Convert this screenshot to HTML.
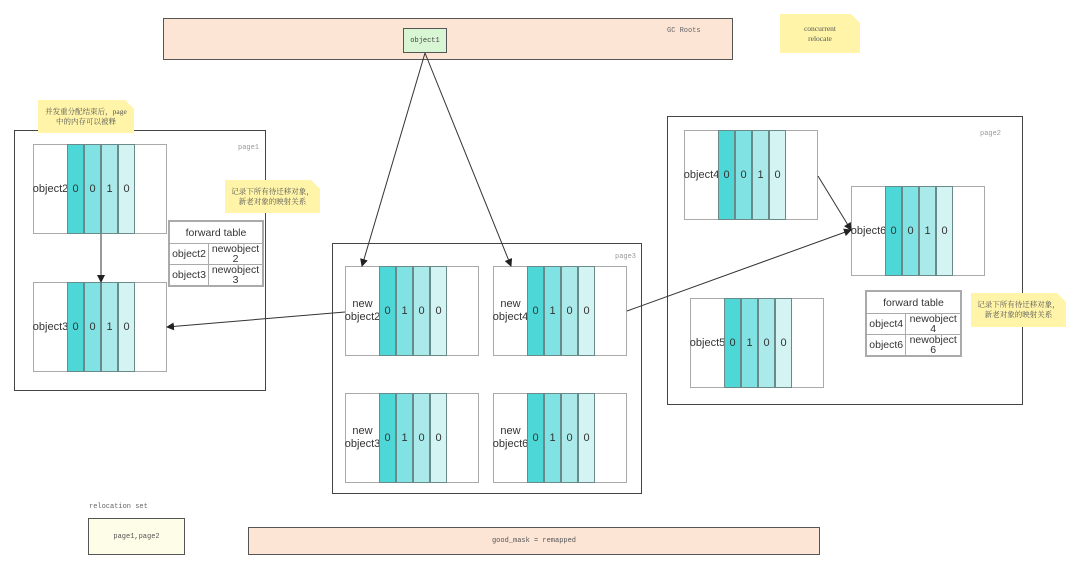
<!DOCTYPE html>
<html><head><meta charset="utf-8"><style>
body{margin:0;width:1080px;height:569px;background:#fff;position:relative;overflow:hidden;font-family:"Liberation Sans","Noto Sans CJK SC",sans-serif}
.a{position:absolute;box-sizing:border-box}
.pg{border:1.3px solid #444;background:#fff}
.obj{position:absolute;width:134px;height:90px;border:1px solid #aaa;background:#fff;box-sizing:border-box}
.obj .l{position:absolute;left:0;top:0;width:33px;height:100%;display:flex;align-items:center;justify-content:center;font-size:11px;color:#333;text-align:center;line-height:13px;white-space:nowrap}
.obj .b{position:absolute;top:-1px;height:90px;width:17px;border:1px solid #6a8a8a;box-sizing:border-box;display:flex;align-items:center;justify-content:center;font-size:11px;color:#333}
.c1{background:#4ed7d7}.c2{background:#80e2e2}.c3{background:#abeaea}.c4{background:#d4f4f4}
.note{background:#fff4a8;font-family:"Liberation Serif","Noto Serif CJK SC",serif;font-size:7.5px;color:#555;text-align:center;display:flex;align-items:center;justify-content:center;line-height:10px;clip-path:polygon(0 0,calc(100% - 9px) 0,100% 9px,100% 100%,0 100%)}
.ft{position:absolute;border:1px solid #aaa;background:#fff;font-size:10.5px;color:#333;box-sizing:border-box}
.ft table{border-collapse:collapse;width:100%;height:100%}
.ft td{border:1px solid #aaa;text-align:center;line-height:10px;padding:0}
.sm{font-family:"Liberation Mono",monospace;font-size:7px;color:#666}
</style></head><body>
<div class="a" style="left:163px;top:18px;width:570px;height:42px;background:#fde5d6;border:1.3px solid #555"></div>
<div class="a sm" style="left:667px;top:27px">GC Roots</div>
<div class="a" style="left:403px;top:28px;width:44px;height:25px;background:#d8f5d4;border:1.3px solid #555;font-family:'Liberation Mono',monospace;font-size:7px;color:#444;display:flex;align-items:center;justify-content:center">object1</div>
<div class="a note" style="left:780px;top:14px;width:80px;height:39px">concurrent<br>relocate</div>

<div class="a pg" style="left:14px;top:130px;width:252px;height:261px"></div>
<div class="a sm" style="left:238px;top:144px;color:#999">page1</div>
<div class="a note" style="left:38px;top:100px;width:96px;height:33px">并发重分配结束后，page<br>中的内存可以被释</div>
<div class="a note" style="left:225px;top:180px;width:95px;height:33px">记录下所有待迁移对象，<br>新老对象的映射关系</div>
<div class="obj" style="left:33px;top:144px"><div class="l">object2</div><div class="b c1" style="left:33px">0</div><div class="b c2" style="left:50px">0</div><div class="b c3" style="left:67px">1</div><div class="b c4" style="left:84px">0</div></div>
<div class="obj" style="left:33px;top:282px"><div class="l">object3</div><div class="b c1" style="left:33px">0</div><div class="b c2" style="left:50px">0</div><div class="b c3" style="left:67px">1</div><div class="b c4" style="left:84px">0</div></div>
<div class="ft" style="left:168px;top:220px;width:96px;height:67px"><table><tr style="height:22px"><td colspan="2">forward table</td></tr><tr><td>object2</td><td>newobject<br>2</td></tr><tr><td>object3</td><td>newobject<br>3</td></tr></table></div>

<div class="a pg" style="left:332px;top:243px;width:310px;height:251px"></div>
<div class="a sm" style="left:615px;top:253px;color:#999">page3</div>
<div class="obj" style="left:345px;top:266px"><div class="l">new<br>object2</div><div class="b c1" style="left:33px">0</div><div class="b c2" style="left:50px">1</div><div class="b c3" style="left:67px">0</div><div class="b c4" style="left:84px">0</div></div>
<div class="obj" style="left:493px;top:266px"><div class="l">new<br>object4</div><div class="b c1" style="left:33px">0</div><div class="b c2" style="left:50px">1</div><div class="b c3" style="left:67px">0</div><div class="b c4" style="left:84px">0</div></div>
<div class="obj" style="left:345px;top:393px"><div class="l">new<br>object3</div><div class="b c1" style="left:33px">0</div><div class="b c2" style="left:50px">1</div><div class="b c3" style="left:67px">0</div><div class="b c4" style="left:84px">0</div></div>
<div class="obj" style="left:493px;top:393px"><div class="l">new<br>object6</div><div class="b c1" style="left:33px">0</div><div class="b c2" style="left:50px">1</div><div class="b c3" style="left:67px">0</div><div class="b c4" style="left:84px">0</div></div>

<div class="a pg" style="left:667px;top:116px;width:356px;height:289px"></div>
<div class="a sm" style="left:980px;top:130px;color:#999">page2</div>
<div class="obj" style="left:684px;top:130px"><div class="l">object4</div><div class="b c1" style="left:33px">0</div><div class="b c2" style="left:50px">0</div><div class="b c3" style="left:67px">1</div><div class="b c4" style="left:84px">0</div></div>
<div class="obj" style="left:851px;top:186px"><div class="l">object6</div><div class="b c1" style="left:33px">0</div><div class="b c2" style="left:50px">0</div><div class="b c3" style="left:67px">1</div><div class="b c4" style="left:84px">0</div></div>
<div class="obj" style="left:690px;top:298px"><div class="l">object5</div><div class="b c1" style="left:33px">0</div><div class="b c2" style="left:50px">1</div><div class="b c3" style="left:67px">0</div><div class="b c4" style="left:84px">0</div></div>
<div class="ft" style="left:865px;top:290px;width:97px;height:67px"><table><tr style="height:22px"><td colspan="2">forward table</td></tr><tr><td>object4</td><td>newobject<br>4</td></tr><tr><td>object6</td><td>newobject<br>6</td></tr></table></div>
<div class="a note" style="left:971px;top:293px;width:95px;height:34px">记录下所有待迁移对象，<br>新老对象的映射关系</div>

<div class="a sm" style="left:89px;top:503px">relocation set</div>
<div class="a" style="left:88px;top:518px;width:97px;height:37px;background:#fdfde8;border:1.3px solid #555;font-family:'Liberation Mono',monospace;font-size:7px;color:#555;display:flex;align-items:center;justify-content:center">page1,page2</div>
<div class="a" style="left:248px;top:527px;width:572px;height:28px;background:#fde5d6;border:1.3px solid #555;font-family:'Liberation Mono',monospace;font-size:7px;color:#555;display:flex;align-items:center;justify-content:center">good_mask = remapped</div>

<svg class="a" style="left:0;top:0" width="1080" height="569">
<defs><marker id="m" markerWidth="8" markerHeight="8" refX="7" refY="4" orient="auto" markerUnits="userSpaceOnUse"><path d="M0,0L8,4L0,8z" fill="#222"/></marker></defs>
<g stroke="#333" stroke-width="1" fill="none" marker-end="url(#m)">
<line x1="425" y1="53" x2="362" y2="266"/>
<line x1="425" y1="53" x2="511" y2="266"/>
<line x1="101" y1="234" x2="101" y2="282"/>
<line x1="345" y1="312" x2="167" y2="327"/>
<line x1="818" y1="176" x2="851" y2="230"/>
<line x1="627" y1="311" x2="851" y2="230"/>
</g></svg>
</body></html>
